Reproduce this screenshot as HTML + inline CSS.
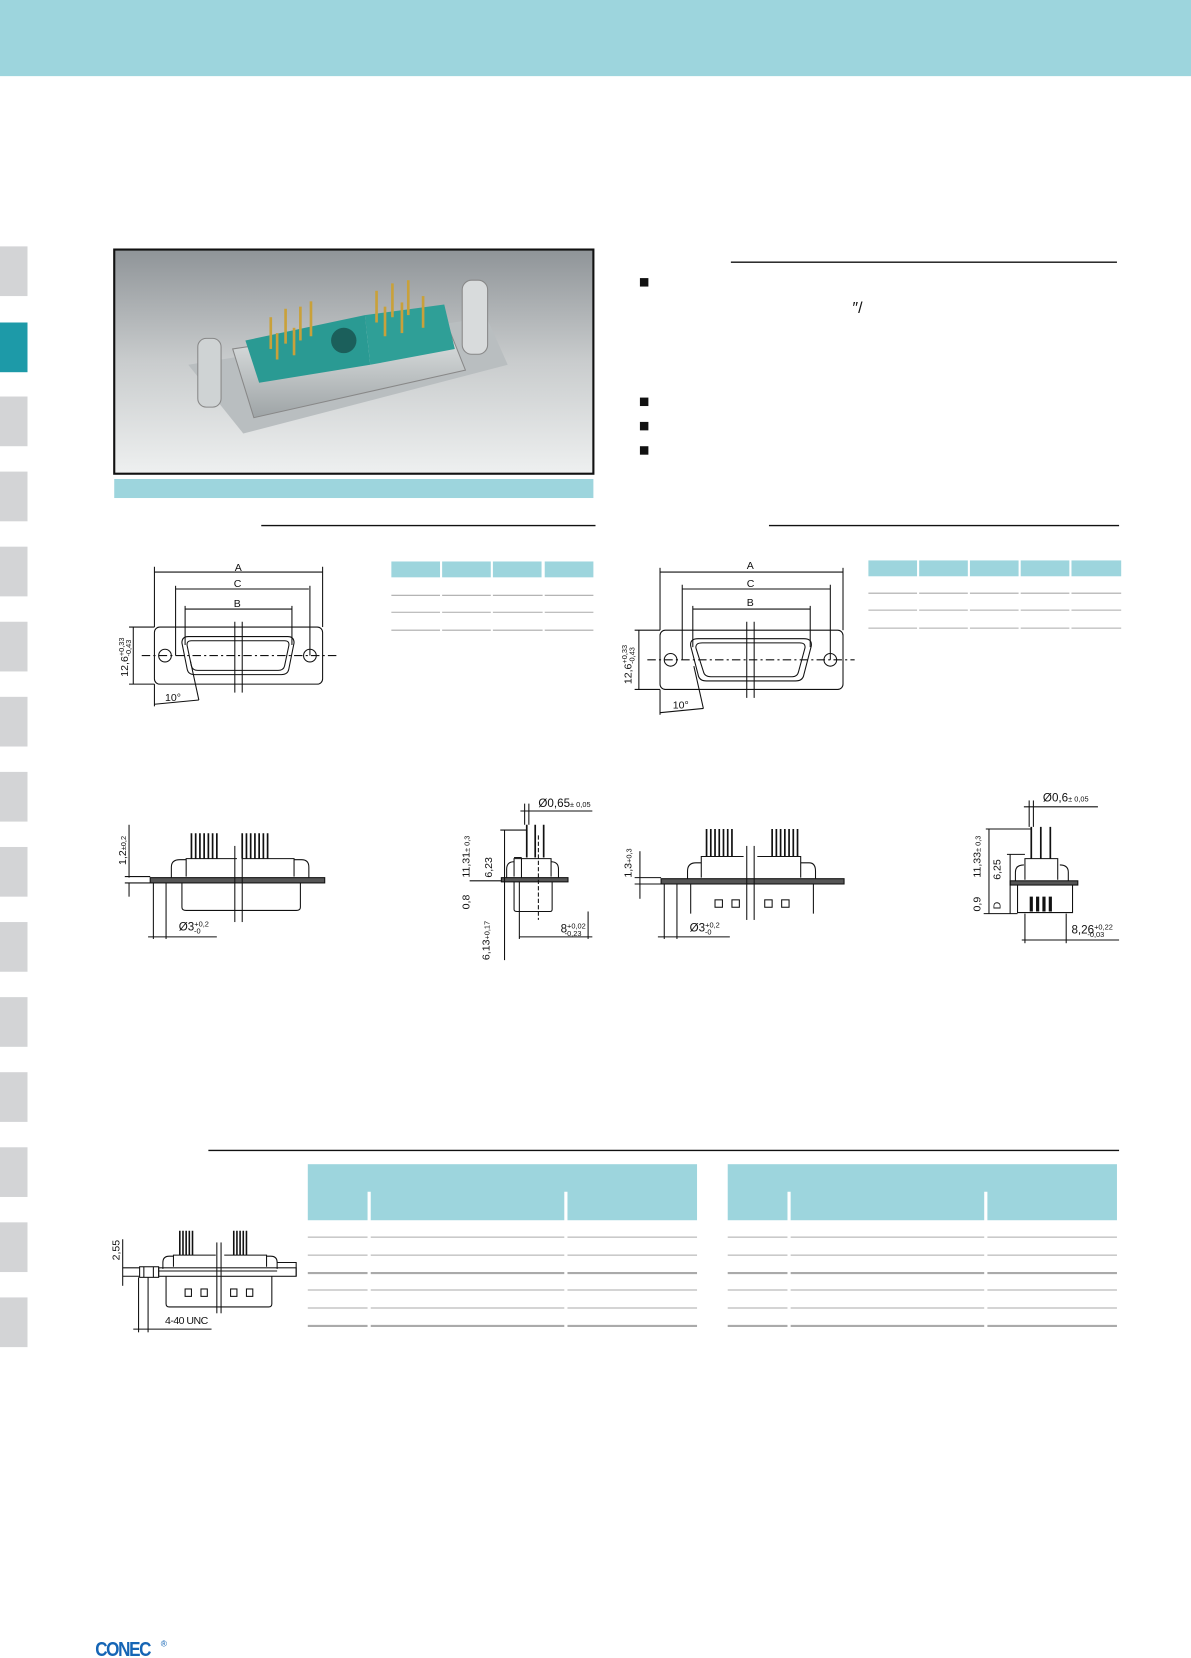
<!DOCTYPE html>
<html><head><meta charset="utf-8"><style>
html,body{margin:0;padding:0;background:#fff;}
svg{display:block}
text{font-family:"Liberation Sans",sans-serif;fill:#111}
</style></head><body>
<svg width="1191" height="1658" viewBox="0 0 1126 1568" preserveAspectRatio="none" xmlns="http://www.w3.org/2000/svg">
<defs>
<linearGradient id="bg" x1="0" y1="0" x2="0" y2="1"><stop offset="0" stop-color="#8f9498"/><stop offset="0.5" stop-color="#c9cccd"/><stop offset="1" stop-color="#eef0f0"/></linearGradient>
<linearGradient id="sh" x1="0" y1="0" x2="0" y2="1"><stop offset="0" stop-color="#e9ecec"/><stop offset="1" stop-color="#9ea4a6"/></linearGradient>
</defs>
<rect x="0" y="0" width="1126" height="72" fill="#9dd5dd"/>
<g fill="#d3d4d6">
<rect x="0" y="233" width="26" height="47"/>
<rect x="0" y="305" width="26" height="47" fill="#1d9aa8"/>
<rect x="0" y="375" width="26" height="47"/>
<rect x="0" y="446" width="26" height="47"/>
<rect x="0" y="517" width="26" height="47"/>
<rect x="0" y="588" width="26" height="47"/>
<rect x="0" y="659" width="26" height="47"/>
<rect x="0" y="730" width="26" height="47"/>
<rect x="0" y="801" width="26" height="47"/>
<rect x="0" y="872" width="26" height="47"/>
<rect x="0" y="943" width="26" height="47"/>
<rect x="0" y="1014" width="26" height="47"/>
<rect x="0" y="1085" width="26" height="47"/>
<rect x="0" y="1156" width="26" height="47"/>
<rect x="0" y="1227" width="26" height="47"/>
</g>
<!-- photo -->
<rect x="108" y="236" width="453" height="212" fill="url(#bg)" stroke="#111" stroke-width="2"/>
<path d="M178 345 L460 300 L480 345 L230 410 Z" fill="#b9bec0"/>
<path d="M220 330 L420 300 L440 350 L240 395 Z" fill="url(#sh)" stroke="#888"/>
<path d="M232 322 L345 298 L350 345 L245 362 Z" fill="#2a9a93"/>
<path d="M345 298 L420 288 L430 330 L350 345 Z" fill="#2f9f97"/>
<circle cx="325" cy="322" r="12" fill="#1b5f5b"/>
<g stroke="#c9a13a" stroke-width="2.5">
<line x1="256" y1="300" x2="256" y2="330"/><line x1="270" y1="292" x2="270" y2="325"/><line x1="284" y1="290" x2="284" y2="322"/><line x1="294" y1="285" x2="294" y2="318"/><line x1="262" y1="315" x2="262" y2="340"/><line x1="278" y1="310" x2="278" y2="336"/>
<line x1="356" y1="275" x2="356" y2="305"/><line x1="371" y1="268" x2="371" y2="300"/><line x1="386" y1="265" x2="386" y2="298"/><line x1="400" y1="280" x2="400" y2="310"/><line x1="364" y1="290" x2="364" y2="318"/><line x1="380" y1="286" x2="380" y2="315"/>
</g>
<rect x="187" y="320" width="22" height="65" rx="8" fill="#cfd3d4" stroke="#888"/>
<rect x="437" y="265" width="24" height="70" rx="9" fill="#d8dbdc" stroke="#888"/>
<rect x="108" y="453" width="453" height="18" fill="#9dd5dd"/>
<!-- rules -->
<g stroke="#111" stroke-width="1.3">
<line x1="691" y1="248" x2="1056" y2="248"/>
<line x1="247" y1="497" x2="563" y2="497"/>
<line x1="727" y1="497" x2="1058" y2="497"/>
<line x1="197" y1="1088" x2="1058" y2="1088"/>
</g>
<g fill="#111"><rect x="605" y="263" width="8" height="8"/><rect x="605" y="376" width="8" height="8"/><rect x="605" y="399" width="8" height="8"/><rect x="605" y="422" width="8" height="8"/></g>
<text x="806" y="296" font-size="15">″/</text>
<!-- small tables -->
<g fill="#9dd5dd"><rect x="370" y="531" width="46" height="15"/><rect x="418" y="531" width="46" height="15"/><rect x="466" y="531" width="46" height="15"/><rect x="515" y="531" width="46" height="15"/>
<rect x="821" y="530" width="46" height="15"/><rect x="869" y="530" width="46" height="15"/><rect x="917" y="530" width="46" height="15"/><rect x="965" y="530" width="46" height="15"/><rect x="1013" y="530" width="47" height="15"/></g>
<g stroke="#aaa" stroke-width="1">
<path d="M370 563H561M370 579H561M370 596H561"/>
<path d="M821 561H1060M821 577H1060M821 594H1060"/>
</g>
<g stroke="#fff" stroke-width="2"><path d="M417 550V600M465 550V600M514 550V600M868 550V600M916 550V600M964 550V600M1012 550V600"/></g>
<!-- front view left -->
<g fill="none" stroke="#111" stroke-width="1">
<rect x="146" y="593" width="159" height="54" rx="5"/>
<circle cx="156" cy="620" r="6"/><circle cx="293" cy="620" r="6"/>
<path d="M178 602 H272 Q278 602 278 608 L273 633 Q272 638 266 638 H184 Q178 638 177 633 L172 608 Q172 602 178 602Z"/>
<path d="M181 606 H269 Q274 606 273 611 L269 630 Q268 634 263 634 H187 Q182 634 181 630 L177 611 Q176 606 181 606Z"/>
<line x1="146" y1="536" x2="146" y2="593"/><line x1="305" y1="536" x2="305" y2="593"/>
<line x1="146" y1="541" x2="305" y2="541"/>
<line x1="166" y1="554" x2="166" y2="620"/><line x1="293" y1="554" x2="293" y2="620"/>
<line x1="166" y1="557" x2="292" y2="557"/>
<line x1="175" y1="573" x2="175" y2="610"/><line x1="276" y1="573" x2="276" y2="610"/>
<line x1="175" y1="576" x2="276" y2="576"/>
<line x1="122" y1="593" x2="146" y2="593"/><line x1="122" y1="647" x2="146" y2="647"/>
<line x1="126" y1="593" x2="126" y2="647"/>
<line x1="146" y1="647" x2="146" y2="668"/><line x1="146" y1="666" x2="188" y2="662"/><line x1="188" y1="662" x2="180" y2="625"/>
<line x1="222" y1="588" x2="222" y2="655"/><line x1="229" y1="588" x2="229" y2="655"/>
<line x1="134" y1="620" x2="320" y2="620" stroke-dasharray="8,3,2,3"/>
</g>
<text x="222" y="540" font-size="10">A</text><text x="221" y="555" font-size="10">C</text><text x="221" y="574" font-size="10">B</text>
<text x="156" y="663" font-size="10">10°</text>
<text transform="translate(121,640) rotate(-90)" font-size="10">12,6<tspan font-size="7" dy="-4">+0,33</tspan><tspan font-size="7" dx="-18" dy="7">-0,43</tspan></text>
<!-- front view right -->
<g fill="none" stroke="#111" stroke-width="1">
<rect x="624" y="596" width="173" height="56" rx="5"/>
<circle cx="634" cy="624" r="6"/><circle cx="785" cy="624" r="6"/>
<path d="M660 604 H760 Q768 604 767 611 L760 638 Q759 644 752 644 H668 Q661 644 660 638 L653 611 Q652 604 660 604Z"/>
<path d="M664 608 H756 Q762 608 761 613 L755 635 Q754 640 749 640 H672 Q666 640 665 635 L658 613 Q657 608 664 608Z"/>
<line x1="624" y1="537" x2="624" y2="596"/><line x1="797" y1="537" x2="797" y2="596"/>
<line x1="624" y1="541" x2="797" y2="541"/>
<line x1="645" y1="553" x2="645" y2="624"/><line x1="785" y1="553" x2="785" y2="624"/>
<line x1="645" y1="557" x2="785" y2="557"/>
<line x1="655" y1="573" x2="655" y2="612"/><line x1="766" y1="573" x2="766" y2="612"/>
<line x1="655" y1="576" x2="766" y2="576"/>
<line x1="600" y1="596" x2="624" y2="596"/><line x1="600" y1="652" x2="624" y2="652"/>
<line x1="604" y1="596" x2="604" y2="652"/>
<line x1="624" y1="652" x2="624" y2="676"/><line x1="624" y1="674" x2="665" y2="670"/><line x1="665" y1="670" x2="656" y2="630"/>
<line x1="706" y1="588" x2="706" y2="660"/><line x1="713" y1="588" x2="713" y2="660"/>
<line x1="612" y1="624" x2="808" y2="624" stroke-dasharray="8,3,2,3"/>
</g>
<text x="706" y="538" font-size="10">A</text><text x="706" y="555" font-size="10">C</text><text x="706" y="573" font-size="10">B</text>
<text x="636" y="670" font-size="10">10°</text>
<text transform="translate(597,647) rotate(-90)" font-size="10">12,6<tspan font-size="7" dy="-4">+0,33</tspan><tspan font-size="7" dx="-18" dy="7">-0,43</tspan></text>
<!-- side view left -->
<g fill="none" stroke="#111" stroke-width="1">
<g stroke-width="1.6"><path d="M181 788V812M185 788V812M189 788V812M193 788V812M197 788V812M201 788V812M205 788V812M253 788V812M249 788V812M245 788V812M241 788V812M237 788V812M233 788V812M229 788V812"/></g>
<path d="M176 829V812H224M229 812H278V829"/>
<path d="M162 830V820Q162 813 170 813H176M278 813H285Q292 813 292 820V830"/>
<rect x="142" y="830" width="165" height="5" fill="#555"/>
<path d="M172 835V858Q172 861 176 861H280Q284 861 284 858V835"/>
<line x1="222" y1="800" x2="222" y2="872"/><line x1="229" y1="800" x2="229" y2="872"/>
<line x1="122" y1="780" x2="122" y2="830"/><line x1="122" y1="835" x2="122" y2="848"/>
<line x1="118" y1="829" x2="142" y2="829"/><line x1="118" y1="835" x2="142" y2="835"/>
<line x1="145" y1="835" x2="145" y2="888"/><line x1="157" y1="835" x2="157" y2="888"/>
<line x1="140" y1="886" x2="205" y2="886"/>
</g>
<text transform="translate(119,818) rotate(-90)" font-size="10">1,2<tspan font-size="7">±0,2</tspan></text>
<text x="169" y="880" font-size="11">Ø3<tspan font-size="7" dy="-4">+0,2</tspan><tspan font-size="7" dx="-14" dy="7">-0</tspan></text>
<!-- side view left small -->
<g fill="none" stroke="#111" stroke-width="1">
<path d="M498 780V811M506 780V811M514 780V811" stroke-width="1.6"/>
<path d="M486 829V812H521V829"/>
<path d="M479 830V822Q479 815 486 815M521 815Q528 815 528 822V830"/>
<rect x="474" y="830" width="63" height="4" fill="#555"/>
<path d="M486 834V860Q486 862 489 862H520Q522 862 522 860V834"/>
<line x1="509" y1="790" x2="509" y2="870" stroke-dasharray="4,2"/>
<line x1="473" y1="785" x2="498" y2="785"/><line x1="477" y1="785" x2="477" y2="908"/>
<line x1="492" y1="767" x2="560" y2="767"/><line x1="496" y1="760" x2="496" y2="780"/><line x1="500" y1="760" x2="500" y2="780"/>
<line x1="493" y1="811" x2="486" y2="811"/><line x1="493" y1="811" x2="493" y2="830"/>
<line x1="444" y1="833" x2="474" y2="833"/>
<line x1="491" y1="834" x2="491" y2="888"/><line x1="491" y1="886" x2="560" y2="886"/><line x1="556" y1="862" x2="556" y2="888"/>
</g>
<text x="509" y="763" font-size="11">Ø0,65<tspan font-size="7">± 0,05</tspan></text>
<text transform="translate(444,830) rotate(-90)" font-size="10">11,31<tspan font-size="7">± 0,3</tspan></text>
<text transform="translate(465,830) rotate(-90)" font-size="10">6,23</text>
<text transform="translate(444,860) rotate(-90)" font-size="10">0,8</text>
<text transform="translate(463,908) rotate(-90)" font-size="10">6,13<tspan font-size="7">+0,17</tspan></text>
<text x="530" y="882" font-size="11">8<tspan font-size="7" dy="-4">+0,02</tspan><tspan font-size="7" dx="-20" dy="7">-0,23</tspan></text>
<!-- side view right -->
<g fill="none" stroke="#111" stroke-width="1">
<path d="M668 784V810M672 784V810M676 784V810M680 784V810M684 784V810M688 784V810M692 784V810M730 784V810M734 784V810M738 784V810M742 784V810M746 784V810M750 784V810M754 784V810" stroke-width="1.6"/>
<path d="M663 830V810H703M716 810H757V830"/>
<path d="M650 835V824Q650 816 658 816H663M757 816H765Q771 816 771 824V835"/>
<rect x="625" y="831" width="173" height="5" fill="#555"/>
<path d="M653 836V864M769 836V864"/>
<rect x="676" y="851" width="7" height="7"/><rect x="692" y="851" width="7" height="7"/><rect x="723" y="851" width="7" height="7"/><rect x="739" y="851" width="7" height="7"/>
<line x1="706" y1="800" x2="706" y2="870"/><line x1="713" y1="800" x2="713" y2="870"/>
<line x1="600" y1="830" x2="625" y2="830"/><line x1="600" y1="836" x2="625" y2="836"/><line x1="605" y1="805" x2="605" y2="850"/>
<line x1="628" y1="836" x2="628" y2="888"/><line x1="640" y1="836" x2="640" y2="888"/><line x1="622" y1="886" x2="690" y2="886"/>
</g>
<text transform="translate(597,830) rotate(-90)" font-size="10">1,3<tspan font-size="7">+0,3</tspan></text>
<text x="652" y="881" font-size="11">Ø3<tspan font-size="7" dy="-4">+0,2</tspan><tspan font-size="7" dx="-14" dy="7">-0</tspan></text>
<!-- side right small -->
<g fill="none" stroke="#111" stroke-width="1">
<path d="M975 782V812M984 782V812M993 782V812" stroke-width="1.6"/>
<path d="M969 832V812H1000V832"/>
<path d="M960 833V825Q960 818 968 818M1002 818Q1010 818 1010 825V833"/>
<rect x="955" y="833" width="64" height="4" fill="#555"/>
<path d="M962 837V863H1014V837"/>
<path d="M975 848V862M981 848V862M987 848V862M993 848V862" stroke-width="3"/>
<line x1="932" y1="784" x2="975" y2="784"/><line x1="935" y1="784" x2="935" y2="864"/>
<line x1="952" y1="808" x2="969" y2="808"/><line x1="955" y1="808" x2="955" y2="864"/>
<line x1="968" y1="763" x2="1038" y2="763"/><line x1="973" y1="757" x2="973" y2="782"/><line x1="977" y1="757" x2="977" y2="782"/>
<line x1="930" y1="864" x2="962" y2="864"/>
<line x1="969" y1="864" x2="969" y2="892"/><line x1="1008" y1="864" x2="1008" y2="892"/><line x1="966" y1="889" x2="1058" y2="889"/>
</g>
<text x="986" y="758" font-size="11">Ø0,6<tspan font-size="7">± 0,05</tspan></text>
<text transform="translate(927,830) rotate(-90)" font-size="10">11,33<tspan font-size="7">± 0,3</tspan></text>
<text transform="translate(946,832) rotate(-90)" font-size="10">6,25</text>
<text transform="translate(927,862) rotate(-90)" font-size="10">0,9</text>
<text transform="translate(946,860) rotate(-90)" font-size="10">D</text>
<text x="1013" y="883" font-size="11">8,26<tspan font-size="7" dy="-4">+0,22</tspan><tspan font-size="7" dx="-24" dy="7">-0,03</tspan></text>
<!-- bottom drawing -->
<g fill="none" stroke="#111" stroke-width="1">
<path d="M170 1164V1187M173 1164V1187M176 1164V1187M179 1164V1187M182 1164V1187M221 1164V1187M224 1164V1187M227 1164V1187M230 1164V1187M233 1164V1187" stroke-width="1.5"/>
<path d="M164 1198V1187H204M212 1187H252V1198"/>
<path d="M154 1200V1194Q154 1188 160 1188H164M252 1188H256Q262 1188 262 1194V1200"/>
<rect x="150" y="1199" width="130" height="8" fill="none"/>
<path d="M150 1202H262"/>
<path d="M262 1194H280V1207"/>
<rect x="132" y="1198" width="18" height="10"/>
<path d="M136 1198V1208M145 1198V1208"/>
<path d="M157 1207V1233Q157 1236 160 1236H254Q257 1236 257 1233V1207"/>
<rect x="175" y="1219" width="6" height="7"/><rect x="190" y="1219" width="6" height="7"/><rect x="218" y="1219" width="6" height="7"/><rect x="233" y="1219" width="6" height="7"/>
<line x1="205" y1="1175" x2="205" y2="1242"/><line x1="209" y1="1175" x2="209" y2="1242"/>
<line x1="116" y1="1172" x2="116" y2="1216"/><line x1="116" y1="1199" x2="132" y2="1199"/><line x1="116" y1="1207" x2="132" y2="1207"/>
<line x1="131" y1="1208" x2="131" y2="1260"/><line x1="140" y1="1208" x2="140" y2="1260"/><line x1="126" y1="1257" x2="200" y2="1257"/>
</g>
<text transform="translate(113,1192) rotate(-90)" font-size="10">2,55</text>
<text x="156" y="1252" font-size="10" style="letter-spacing:-0.5px">4-40 UNC</text>
<!-- bottom tables -->
<g fill="#9dd5dd">
<rect x="291" y="1101" width="368" height="53"/>
<rect x="688" y="1101" width="368" height="53"/>
</g>
<g stroke="#fff" stroke-width="3"><path d="M349 1127V1156M535 1127V1156M746 1127V1156M932 1127V1156"/></g>
<g stroke="#aaa" stroke-width="1">
<path d="M291 1170H659M291 1187H659M291 1220H659M291 1237H659M688 1170H1056M688 1187H1056M688 1220H1056M688 1237H1056"/>
</g>
<g stroke="#aaa" stroke-width="2">
<path d="M291 1204H659M291 1254H659M688 1204H1056M688 1254H1056"/>
</g>
<g stroke="#fff" stroke-width="3"><path d="M349 1158V1258M535 1158V1258M746 1158V1258M932 1158V1258"/></g>
<text x="90" y="1566" font-size="19" font-weight="bold" style="fill:#1565b5;letter-spacing:-1.5px" transform="translate(90,0) scale(0.85,1) translate(-90,0)">CONEC</text>
<text x="152" y="1557" font-size="8" style="fill:#1565b5">®</text>
</svg>
</body></html>
